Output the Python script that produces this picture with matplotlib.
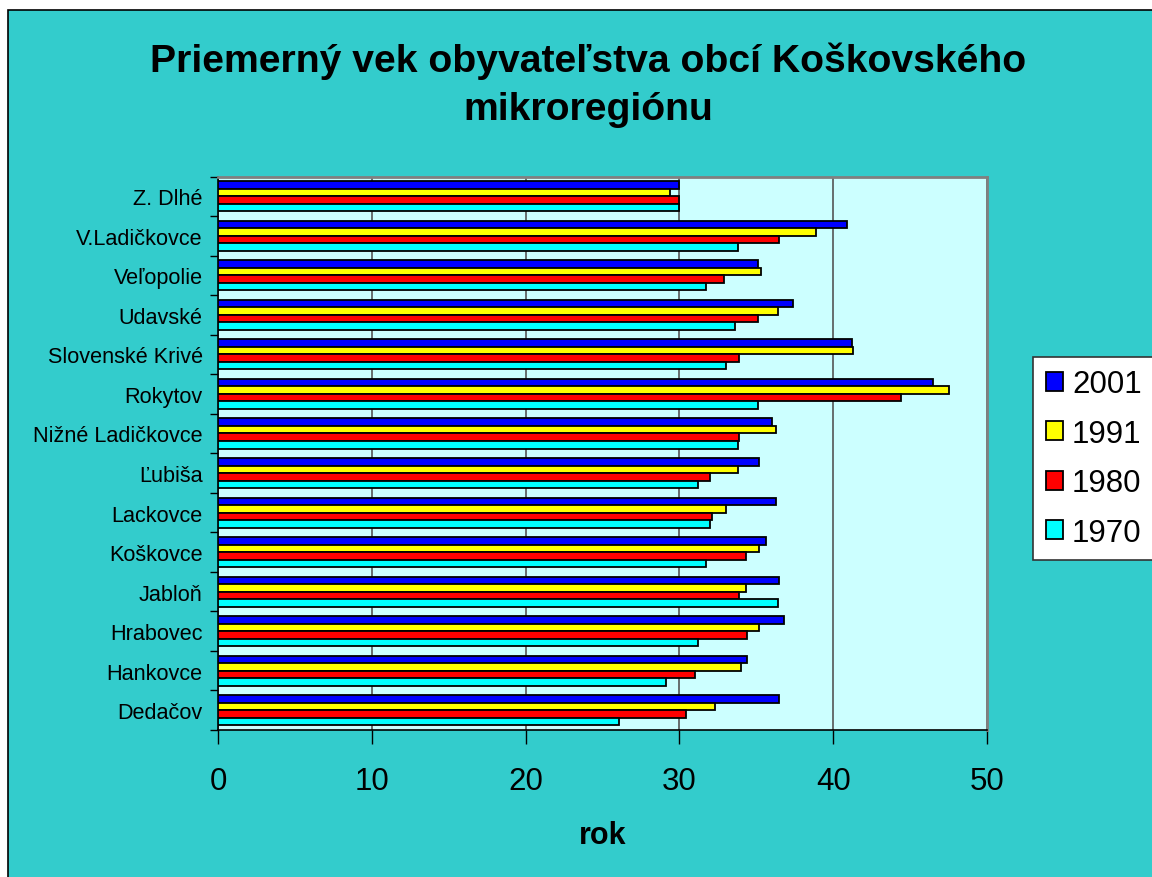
import matplotlib
matplotlib.use("Agg")
import matplotlib.pyplot as plt
from matplotlib.patches import Rectangle, Patch
import numpy as np

plt.rcParams['font.family'] = ['Liberation Sans', 'DejaVu Sans']

categories = ["Dedačov", "Hankovce", "Hrabovec", "Jabloň", "Koškovce", "Lackovce",
              "Ľubiša", "Nižné Ladičkovce", "Rokytov", "Slovenské Krivé", "Udavské",
              "Veľopolie", "V.Ladičkovce", "Z. Dlhé"]
v2001 = [36.5, 34.4, 36.8, 36.5, 35.6, 36.25, 35.2, 36.0, 46.5, 41.2, 37.4, 35.1, 40.9, 30.0]
v1991 = [32.3, 34.0, 35.2, 34.3, 35.2, 33.0, 33.8, 36.25, 47.55, 41.3, 36.4, 35.3, 38.85, 29.4]
v1980 = [30.4, 31.0, 34.4, 33.9, 34.3, 32.1, 32.0, 33.9, 44.4, 33.9, 35.1, 32.9, 36.5, 30.0]
v1970 = [26.1, 29.1, 31.2, 36.4, 31.7, 32.0, 31.2, 33.8, 35.1, 33.0, 33.6, 31.7, 33.8, 30.0]
series_labels = ["2001", "1991", "1980", "1970"]
series_colors = ["#0000FF", "#FFFF00", "#FF0000", "#00FFFF"]
xticks = [0, 10, 20, 30, 40, 50]

W, H = 1152, 878
fig = plt.figure(figsize=(W / 100, H / 100), dpi=100)
fig.patch.set_facecolor("white")
# chart area background with border
fig.patches.append(Rectangle((8 / W, -0.05), 1.1, 1 - 11 / H + 0.05, transform=fig.transFigure,
                             facecolor="#33CCCC", edgecolor="black", linewidth=1.2, zorder=-10))

ax = fig.add_axes([218 / W, 1 - 731 / H, (987 - 218) / W, (731 - 177.5) / H])
ax.set_zorder(2)
ax.set_facecolor("#CCFFFF")

y = np.arange(len(categories))
h = 0.19
series = [v2001, v1991, v1980, v1970]
offsets = [1.5 * h, 0.5 * h, -0.5 * h, -1.5 * h]
for vals, lab, col, off in zip(series, series_labels, series_colors, offsets):
    ax.barh(y + off, vals, height=h, color=col, edgecolor="black", linewidth=1.3,
            label=lab, zorder=3)

ax.set_xlim(0, 50)
ax.set_ylim(-0.5, len(categories) - 0.5)
ax.set_xticks(xticks)
ax.set_xticklabels([str(t) for t in xticks])
ax.set_yticks(y)
ax.set_yticklabels(categories)
ax.set_yticks(np.arange(-0.5, len(categories), 1.0), minor=True)
ax.tick_params(axis="y", which="major", length=0, pad=11, labelsize=15.6)
ax.tick_params(axis="y", which="minor", length=6, width=1, direction="out", color="black")
ax.tick_params(axis="x", which="major", length=10, width=1, direction="out", pad=16, labelsize=22.5)
ax.xaxis.grid(True, color="#555555", linewidth=1.2, zorder=1)
ax.set_axisbelow(True)
for s in ["top", "right"]:
    ax.spines[s].set_color("#808080")
    ax.spines[s].set_linewidth(2)
for s in ["left", "bottom"]:
    ax.spines[s].set_color("black")
    ax.spines[s].set_linewidth(1.2)

ax.set_xlabel("rok", fontsize=22, fontweight="bold", labelpad=17)

fig.text(588 / W, 1 - 42 / H, "Priemerný vek obyvateľstva obcí Koškovského\nmikroregiónu",
         ha="center", va="top", fontsize=28.2, fontweight="bold", linespacing=1.46)

handles = [Patch(facecolor=c, edgecolor="black", linewidth=1.3) for c in series_colors]
leg = fig.legend(handles, series_labels, loc="upper left",
                 bbox_to_anchor=(1033 / W, 1 - 358 / H), bbox_transform=fig.transFigure,
                 fontsize=22.5, frameon=True, fancybox=False, edgecolor="#333333",
                 framealpha=1, handlelength=0.55, handleheight=0.55, handletextpad=0.3,
                 labelspacing=0.62, borderpad=0.4, borderaxespad=0)
leg.get_frame().set_linewidth(1.2)

fig.savefig("out.png", dpi=100)
